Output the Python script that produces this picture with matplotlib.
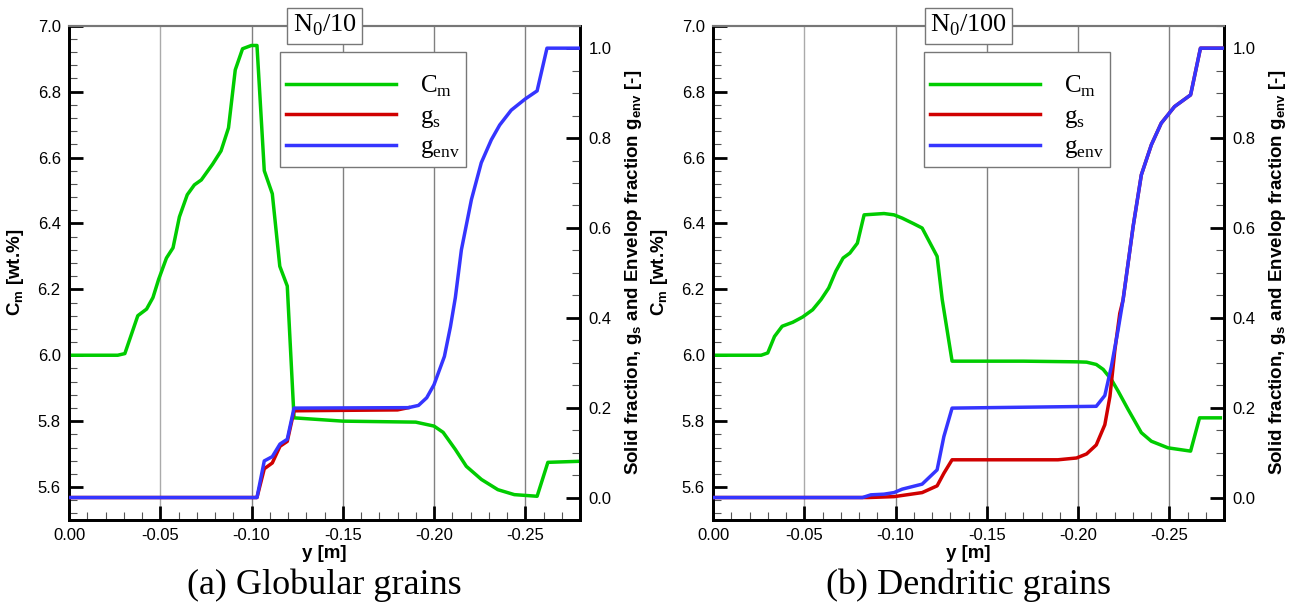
import matplotlib
matplotlib.use("Agg")
import matplotlib.pyplot as plt
from matplotlib.ticker import MultipleLocator, FormatStrFormatter
from matplotlib.lines import Line2D

plt.rcParams['font.family'] = ['Liberation Sans', 'DejaVu Sans']
plt.rcParams['mathtext.fontset'] = 'custom'
plt.rcParams['mathtext.rm'] = 'Liberation Serif'
plt.rcParams['mathtext.bf'] = 'Liberation Sans:bold'

# ---- (a) globular grains, N0/10 ----
a_cm_y = [0.0, -0.0267, -0.0306, -0.0377, -0.0425, -0.046, -0.0491, -0.0534, -0.0570, -0.0605,
          -0.0648, -0.0687, -0.0725, -0.0787, -0.0833, -0.0874, -0.0911, -0.0951, -0.0999, -0.103,
          -0.107, -0.1114, -0.1155, -0.1196, -0.1233, -0.150, -0.190, -0.200, -0.205, -0.2117,
          -0.2177, -0.226, -0.235, -0.244, -0.2565, -0.2624, -0.279]
a_cm = [6.0, 6.0, 6.005, 6.12, 6.14, 6.175, 6.23, 6.295, 6.326, 6.42,
        6.487, 6.517, 6.532, 6.58, 6.62, 6.69, 6.866, 6.93, 6.94, 6.94,
        6.56, 6.49, 6.27, 6.21, 5.81, 5.80, 5.797, 5.785, 5.766, 5.714,
        5.663, 5.623, 5.592, 5.577, 5.572, 5.675, 5.678]

a_gs_y = [0.0, -0.103, -0.107, -0.1114, -0.1156, -0.1196, -0.1233, -0.150, -0.180, -0.186]
a_gs = [0.0, 0.0, 0.064, 0.077, 0.114, 0.125, 0.193, 0.194, 0.195, 0.2]

a_env_y = [0.0, -0.103, -0.107, -0.1114, -0.1156, -0.1196, -0.1233, -0.186, -0.1915, -0.196,
           -0.200, -0.2057, -0.209, -0.2117, -0.215, -0.2205, -0.2259, -0.2314, -0.236, -0.2423,
           -0.250, -0.2565, -0.2619, -0.280]
a_env = [0.0, 0.0, 0.0815, 0.091, 0.119, 0.1297, 0.199, 0.2, 0.205, 0.222,
         0.251, 0.314, 0.38, 0.445, 0.551, 0.663, 0.745, 0.796, 0.829, 0.862,
         0.887, 0.905, 1.0, 1.0]

# ---- (b) dendritic grains, N0/100 ----
b_cm_y = [0.0, -0.0264, -0.030, -0.0337, -0.0379, -0.0437, -0.0491, -0.0546, -0.0592, -0.0634,
          -0.0673, -0.0713, -0.075, -0.0791, -0.0828, -0.0937, -0.0992, -0.1037, -0.110, -0.1146,
          -0.1228, -0.1256, -0.131, -0.170, -0.1992, -0.2047, -0.210, -0.2138, -0.2183, -0.222,
          -0.2275, -0.2347, -0.2402, -0.2493, -0.2617, -0.2666, -0.278]
b_cm = [6.0, 6.0, 6.007, 6.057, 6.088, 6.10, 6.116, 6.138, 6.169, 6.204,
        6.255, 6.295, 6.31, 6.34, 6.426, 6.43, 6.426, 6.416, 6.399, 6.386,
        6.30, 6.169, 5.982, 5.982, 5.98, 5.979, 5.972, 5.957, 5.926, 5.891,
        5.835, 5.765, 5.739, 5.719, 5.709, 5.81, 5.81]

b_gs_y = [0.0, -0.085, -0.0992, -0.1146, -0.1228, -0.1265, -0.131, -0.189, -0.1992, -0.2047,
          -0.210, -0.2147, -0.2175, -0.2202, -0.2229, -0.2247, -0.2302, -0.2347, -0.2402, -0.2456,
          -0.2529, -0.2617, -0.2671, -0.280]
b_gs = [0.0, 0.0, 0.002, 0.011, 0.026, 0.054, 0.084, 0.084, 0.088, 0.097,
        0.117, 0.162, 0.225, 0.328, 0.41, 0.44, 0.603, 0.718, 0.785, 0.833,
        0.87, 0.896, 1.0, 1.0]

b_env_y = [0.0, -0.0819, -0.0865, -0.0937, -0.0992, -0.1037, -0.1146, -0.1228, -0.1265, -0.131,
           -0.210, -0.2147, -0.2183, -0.222, -0.2247, -0.2302, -0.2347, -0.2402, -0.2456, -0.2529,
           -0.2617, -0.2671, -0.280]
b_env = [0.0, 0.0, 0.006, 0.0075, 0.011, 0.0187, 0.0298, 0.0616, 0.1357, 0.199,
         0.203, 0.227, 0.292, 0.374, 0.44, 0.603, 0.718, 0.785, 0.833, 0.87,
         0.896, 1.0, 1.0]

panels = [
    dict(cm=(a_cm_y, a_cm), gs=(a_gs_y, a_gs), env=(a_env_y, a_env),
         tag=r"N$_\mathrm{0}$/10", caption="(a) Globular grains"),
    dict(cm=(b_cm_y, b_cm), gs=(b_gs_y, b_gs), env=(b_env_y, b_env),
         tag=r"N$_\mathrm{0}$/100", caption="(b) Dendritic grains"),
]

xticks = [0.0, -0.05, -0.10, -0.15, -0.20, -0.25]
green, red, blue = '#00cc00', '#d00000', '#3535ff'

fig = plt.figure(figsize=(12.9, 6.1), dpi=100)
lefts = [69 / 1290, 713 / 1290]

for p, left in zip(panels, lefts):
    ax = fig.add_axes([left, 1 - 520 / 610, 511 / 1290, 494.3 / 610])
    ax2 = ax.twinx()

    ax.plot(*p['cm'], color=green, lw=2.5, zorder=3)
    ax2.plot(*p['gs'], color=red, lw=2.5, zorder=3)
    ax2.plot(*p['env'], color=blue, lw=2.5, zorder=4)

    ax.set_xlim(0, -0.28)
    ax.set_ylim(5.5, 7.0)
    ax2.set_ylim(-0.05, 1.05)

    ax.set_xticks(xticks)
    ax.xaxis.set_major_formatter(FormatStrFormatter('%.2f'))
    ax.xaxis.set_minor_locator(MultipleLocator(0.01))
    ax.yaxis.set_major_locator(MultipleLocator(0.2))
    ax.yaxis.set_major_formatter(FormatStrFormatter('%.1f'))
    ax.yaxis.set_minor_locator(MultipleLocator(0.04))
    ax2.set_yticks([0.0, 0.2, 0.4, 0.6, 0.8, 1.0])
    ax2.yaxis.set_major_formatter(FormatStrFormatter('%.1f'))
    ax2.yaxis.set_minor_locator(MultipleLocator(0.05))

    for x in xticks[1:]:
        ax.axvline(x, color='#aaaaaa' if x == -0.05 else '#808080', lw=1.0, zorder=1)

    for a in (ax, ax2):
        a.tick_params(which='major', direction='in', length=10, width=2, labelsize=12, pad=6)
        a.tick_params(which='minor', direction='in', length=6, width=0.8, color='#555555')
        a.tick_params(top=False, which='both')
        for s in ('left', 'bottom', 'right'):
            a.spines[s].set_linewidth(2)
            a.spines[s].set_color('black')
        a.spines['top'].set_color('#777777')
        a.spines['top'].set_linewidth(1.5)
    ax.tick_params(right=False, which='both')

    ax.set_xlabel('y [m]', fontsize=13.5, fontweight='bold', labelpad=1)
    ax.set_ylabel(r'$\mathbf{C}_\mathbf{m}$ [wt.%]', fontsize=13.5, fontweight='bold', labelpad=8)
    ax2.set_ylabel(r'Solid fraction, $\mathbf{g}_\mathbf{s}$ and Envelop fraction $\mathbf{g}_\mathbf{env}$ [-]',
                   fontsize=13.5, fontweight='bold', labelpad=8)

    handles = [Line2D([], [], color=green, lw=2.5),
               Line2D([], [], color=red, lw=2.5),
               Line2D([], [], color=blue, lw=2.5)]
    labels = [r'C$_\mathrm{m}$', r'g$_\mathrm{s}$', r'g$_\mathrm{env}$']
    # a small blank title just pushes the rows down inside the frame
    leg = ax2.legend(handles, labels, loc='upper left', bbox_to_anchor=(0.413, 0.947),
                     borderaxespad=0, prop={'family': 'Liberation Serif', 'size': 18},
                     title=' ', title_fontsize=8,
                     handlelength=4.4, handletextpad=0.95,
                     labelspacing=0.24, borderpad=0.25, fancybox=False, framealpha=1)
    leg.get_frame().set_edgecolor('#777777')
    leg.get_frame().set_linewidth(1.0)

    ax2.text(0.5, 1.0, p['tag'], transform=ax.transAxes, ha='center', va='center',
             fontsize=19, family='Liberation Serif', zorder=10,
             bbox=dict(boxstyle='square,pad=0.2', fc='white', ec='#777777', lw=1.0))

    fig.text(left + 255 / 1290, 1 - 585 / 610, p['caption'], ha='center', va='center',
             fontsize=26, family='Liberation Serif')

fig.savefig('out.png', dpi=100)
